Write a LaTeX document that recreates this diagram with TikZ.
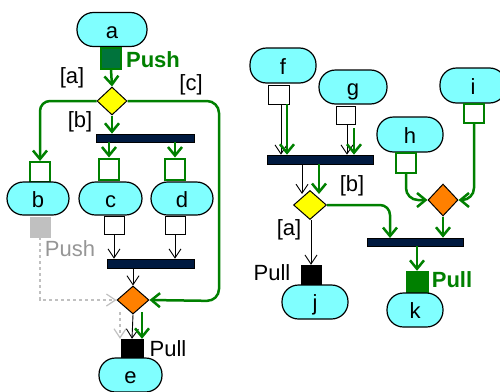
\documentclass[tikz,border=0pt]{standalone}
\usepackage{fontspec}
\setmainfont{Liberation Sans}
\usetikzlibrary{arrows.meta,shapes.geometric}
\definecolor{cyanfill}{RGB}{128,255,255}
\definecolor{grn}{RGB}{0,128,0}
\definecolor{dkgrn}{RGB}{0,115,60}
\definecolor{navy}{RGB}{0,26,64}
\definecolor{orng}{RGB}{255,128,0}
\definecolor{lgray}{RGB}{192,192,192}
\definecolor{dgray}{RGB}{150,150,150}
\definecolor{ylw}{RGB}{255,255,0}
\begin{document}
\begin{tikzpicture}[x=1pt,y=-1pt,
  font=\fontsize{22}{26}\selectfont,
  act/.style={draw=black, line width=1.2pt, fill=cyanfill, rounded corners=16.5pt,
    minimum height=34pt, inner sep=0pt, text height=17pt, text depth=0pt},
  pin/.style={minimum width=20pt, minimum height=20pt, inner sep=0pt},
  pinw/.style={pin, draw=black, fill=white, line width=1pt},
  pingw/.style={pin, draw=grn, fill=white, line width=2pt},
  pinblk/.style={pin, draw=black, fill=black},
  pingrn/.style={pin, draw=grn, fill=grn},
  pindk/.style={pin, draw=grn, fill=dkgrn, line width=2pt},
  pingry/.style={pin, draw=lgray, fill=lgray},
  bar/.style={draw=black, fill=navy, line width=0.6pt, inner sep=0pt, minimum height=8pt},
  dec/.style={shape=diamond, draw=black, line width=1pt, inner sep=0pt},
  garr/.style={draw=grn, line width=2.5pt, -{Straight Barb[length=8.5pt,width=14pt]}},
  barr/.style={draw=black, line width=0.9pt, -{Straight Barb[length=9pt,width=12pt]}},
  gyarr/.style={draw=lgray, line width=1.2pt, dashed, -{Straight Barb[length=9pt,width=12pt]}},
  lbl/.style={inner sep=0pt}
]
\useasboundingbox (0,0) rectangle (500,391);

% ---------- left diagram ----------
\node[act, minimum width=70pt] (a) at (112,29.5) {a};
\node[pindk, minimum width=20pt, minimum height=21pt] (pA) at (111,58) {};
\node[lbl, text=grn, font=\fontsize{22}{26}\selectfont\bfseries] (push1) at (153,60) {Push};
\node[dec, fill=ylw, minimum width=30pt, minimum height=28pt] (Y1) at (112,101) {};
\node[lbl] (la1) at (72,78) {[a]};
\node[lbl] (lc1) at (191,85) {[c]};
\node[lbl] (lb1) at (80,122) {[b]};
\node[bar, minimum width=98pt] (bar1) at (145,138) {};

\node[pingw] (pB) at (40,172) {};
\node[pingw, minimum height=21pt] (pC) at (109,169) {};
\node[pingw, minimum height=21pt] (pD) at (175,169) {};

\node[act, minimum width=62pt, minimum height=33pt] (b) at (38,198.5) {b};
\node[act, minimum width=63pt, minimum height=33pt] (c) at (110.5,198.5) {c};
\node[act, minimum width=62pt, minimum height=33pt] (d) at (182,198.5) {d};

\node[pingry] (pBo) at (40,227) {};
\node[pinw, minimum height=18pt] (pCo) at (114,225) {};
\node[pinw, minimum height=18pt] (pDo) at (175,225) {};
\node[lbl, text=dgray] (push2) at (70,249) {Push};

\node[bar, minimum width=87pt, minimum height=9pt] (bar2) at (150.5,263.5) {};
\node[dec, fill=orng, minimum width=32pt, minimum height=28pt] (O1) at (133,300) {};
\node[pinblk, minimum width=22pt, minimum height=19pt] (pE) at (132,348.5) {};
\node[lbl] (pull1) at (168,349) {Pull};
\node[act, minimum width=63pt] (e) at (130.5,375) {e};

\coordinate (gd1) at (120,312);
\coordinate (gd2) at (142,312);

\draw[garr] (pA.south) -- (Y1.north);
\draw[garr, rounded corners=10pt] (Y1.west) -- (Y1.west -| pB.north) -- (pB.north);
\draw[garr, rounded corners=12pt] (Y1.east) -- (219,101) -- (219,301) -- (O1.east);
\draw[garr] (Y1.south) -- (Y1.south |- bar1.north);
\draw[garr] (bar1.south -| pC.north) -- (pC.north);
\draw[garr] (bar1.south -| pD.north) -- (pD.north);
\draw[barr] (pCo.south) -- (pCo.south |- bar2.north);
\draw[barr] (pDo.south) -- (pDo.south |- bar2.north);
\draw[barr] (bar2.south -| O1.north) -- (O1.north);
\draw[gyarr] (pBo.south) -- (pBo.south |- O1.west) -- (O1.west);
\draw[gyarr] (gd1) -- (gd1 |- pE.north);
\draw[barr] (O1.south) -- (pE.north);
\draw[garr] (gd2) -- (gd2 |- pE.north);

% ---------- right diagram ----------
\node[act, minimum width=66pt, minimum height=35pt] (f) at (283,65.5) {f};
\node[pinw, minimum width=21pt, minimum height=19pt] (pF) at (278.5,94.5) {};
\node[act, minimum width=68pt] (g) at (353,87) {g};
\node[pinw, minimum width=19pt, minimum height=18pt] (pG) at (345.5,115) {};
\node[bar, minimum width=106pt, minimum height=9pt] (bar3) at (320,159.5) {};
\node[dec, fill=ylw, minimum width=33pt, minimum height=29pt] (Y2) at (310,205) {};
\node[lbl] (lb2) at (352,186) {[b]};
\node[lbl] (la2) at (289,230) {[a]};
\node[pinblk] (pJ) at (311,275) {};
\node[lbl] (pull2) at (272,273) {Pull};
\node[act, minimum width=66pt] (j) at (315,302) {j};

\node[act, minimum width=66pt, minimum height=35pt] (h) at (410,134.5) {h};
\node[pingw] (pH) at (406,163) {};
\node[act, minimum width=66pt, minimum height=35pt] (i) at (473,85.5) {i};
\node[pingw, minimum height=19pt] (pI) at (474,113.5) {};
\node[dec, fill=orng, minimum width=30pt, minimum height=32pt] (O2) at (443,200) {};
\node[bar, minimum width=96pt] (bar4) at (415,242) {};
\node[pingrn, minimum width=22pt, minimum height=22pt] (pK) at (417,282) {};
\node[lbl, text=grn, font=\fontsize{22}{26}\selectfont\bfseries] (pull3) at (452,280) {Pull};
\node[act, minimum width=56pt] (k) at (415,310) {k};

\coordinate (fb) at (281,104);
\coordinate (fg) at (287,104);
\coordinate (gb) at (347,124);
\coordinate (gg) at (354,128);
\coordinate (yb) at (302,194);
\coordinate (yg) at (319,194);
\coordinate (b4) at (390,238);

\draw[barr] (fb) -- (fb |- bar3.north);
\draw[garr] (fg) -- (fg |- bar3.north);
\draw[barr] (gb) -- (gb |- bar3.north);
\draw[garr] (gg) -- (gg |- bar3.north);
\draw[barr] (bar3.south -| yb) -- (yb);
\draw[garr] (bar3.south -| yg) -- (yg);
\draw[barr] (Y2.south -| pJ.north) -- (pJ.north);
\draw[garr, rounded corners=10pt] (Y2.east) -- (Y2.east -| b4) -- (b4);
\draw[garr, rounded corners=12pt] (pH.south) -- (pH.south |- O2.west) -- (O2.west);
\draw[garr, rounded corners=12pt] (pI.south) -- (pI.south |- O2.east) -- (O2.east);
\draw[garr] (O2.south) -- (O2.south |- bar4.north);
\draw[garr] (bar4.south -| pK.north) -- (pK.north);
\end{tikzpicture}
\end{document}
